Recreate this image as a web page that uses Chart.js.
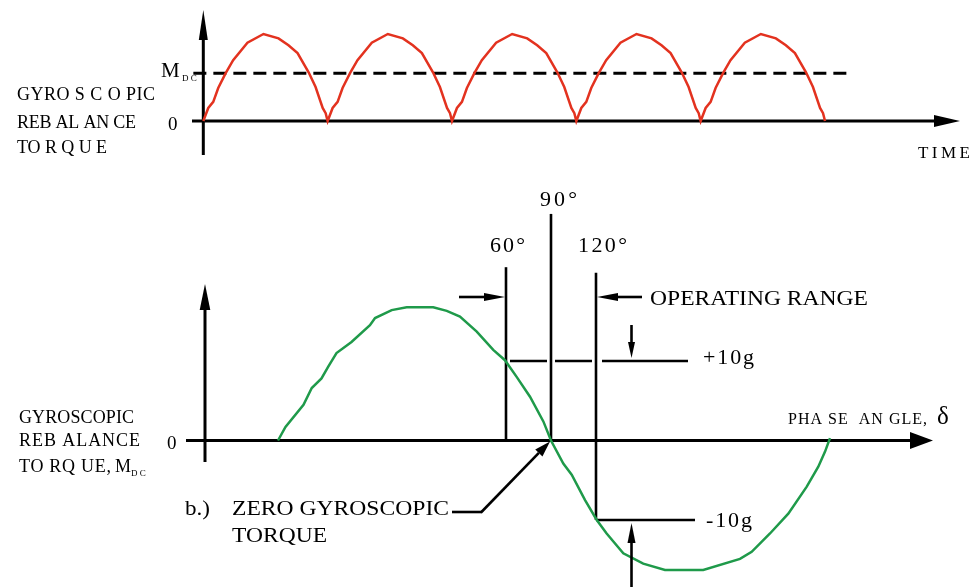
<!DOCTYPE html>
<html>
<head>
<meta charset="utf-8">
<script src="https://cdn.jsdelivr.net/npm/chart.js@4.4.1/dist/chart.umd.min.js"></script>
<style>
  html, body { margin: 0; padding: 0; background: #fff; }
  #plot { display: block; }
</style>
</head>
<body>
<canvas id="plot" width="971" height="587"></canvas>
<script>
// a.) rectified rebalance torque, one hump (phase of period, torque / peak)
const humpPhase = [0, 0.04, 0.08, 0.12, 0.18, 0.24, 0.355, 0.484, 0.605, 0.685, 0.758, 0.847, 0.903, 0.96, 0.984, 1.0];
const humpTorque = [0, 0.15, 0.22, 0.38, 0.55, 0.70, 0.90, 1.0, 0.95, 0.87, 0.78, 0.56, 0.39, 0.15, 0.09, 0];
const humpCount = 5;
const mdcLevel = 0.55;
const mdcSpan = [-0.08, 5.2];

// b.) rebalance torque vs phase angle (deg, g)
const phaseDeg = [-92, -87, -75, -69.5, -63, -58.5, -53, -43, -30.7, -27.3, -16.2, -6.2, 11.5, 20.5, 29.3, 40.5, 51.5, 59.3, 67.1, 76, 84.9, 90,
  98.2, 103.8, 112.7, 120.5, 127.1, 138.2, 151.5, 166, 191.5, 216, 223.8, 236, 248.2, 260.5, 268.2, 272.7, 276];
const rebalanceG = [0, 1.7, 4.5, 6.6, 7.8, 9.3, 11.0, 12.4, 14.5, 15.4, 16.4, 16.75, 16.75, 16.3, 15.6, 13.7, 11.4, 10.1, 8.0, 5.5, 2.4, 0,
  -2.9, -4.3, -7.5, -10, -11.7, -14.2, -15.5, -16.3, -16.3, -14.9, -14.0, -11.7, -9.2, -5.8, -3.3, -1.4, 0.3];
const markerDeg = [60, 90, 120];
const markerLabels = ["60°", "90°", "120°"];
const markerTopG = [21.8, 28.5, 21.1];
const markerBottomG = [0, 0, -10];
const limitG = [10, -10];

// build the point lists
const tornado = [];
for (let k = 0; k < humpCount; k++) {
  humpPhase.forEach((p, i) => {
    if (k > 0 && i === 0) return;
    tornado.push({ x: k + p, y: humpTorque[i] });
  });
}
const phasePoints = phaseDeg.map((d, i) => ({ x: d, y: rebalanceG[i] }));

const SERIF = "'Liberation Serif', 'DejaVu Serif', serif";

// draw text fitted to a width, by letter spacing or by stretching
function fitText(ctx, text, x, y, size, width, stretch) {
  ctx.font = size + "px " + SERIF;
  ctx.letterSpacing = "0px";
  if (!width) {
    ctx.fillText(text, x, y);
    return;
  }
  const w = ctx.measureText(text).width;
  if (stretch) {
    ctx.save();
    ctx.translate(x, y);
    ctx.scale(width / w, 1);
    ctx.fillText(text, 0, 0);
    ctx.restore();
    return;
  }
  const extra = (width - w) / Math.max(text.length - 1, 1);
  ctx.letterSpacing = extra.toFixed(2) + "px";
  ctx.fillText(text, x, y);
  ctx.letterSpacing = "0px";
}

function arrow(ctx, x1, y1, x2, y2, len, half, lw) {
  const a = Math.atan2(y2 - y1, x2 - x1);
  const bx = x2 - len * Math.cos(a), by = y2 - len * Math.sin(a);
  ctx.lineWidth = lw;
  ctx.beginPath();
  ctx.moveTo(x1, y1);
  ctx.lineTo(bx, by);
  ctx.stroke();
  ctx.beginPath();
  ctx.moveTo(x2, y2);
  ctx.lineTo(bx + half * Math.sin(a), by - half * Math.cos(a));
  ctx.lineTo(bx - half * Math.sin(a), by + half * Math.cos(a));
  ctx.closePath();
  ctx.fill();
}

function line(ctx, x1, y1, x2, y2, lw) {
  ctx.lineWidth = lw;
  ctx.beginPath();
  ctx.moveTo(x1, y1);
  ctx.lineTo(x2, y2);
  ctx.stroke();
}

const diagram = {
  id: "diagram",
  beforeDatasetsDraw(chart) {
    const ctx = chart.ctx;
    const s = chart.scales;
    ctx.save();
    ctx.strokeStyle = "#000";
    ctx.fillStyle = "#000";
    ctx.lineCap = "butt";
    // top axes
    const tx0 = s.xt.getPixelForValue(0), ty0 = s.yt.getPixelForValue(0);
    arrow(ctx, tx0, 155, tx0, 10, 30, 4.5, 3);
    arrow(ctx, 192, ty0, 960, ty0, 26, 6, 3);
    // bottom axes
    const by0 = s.yb.getPixelForValue(0);
    arrow(ctx, 205, 462, 205, 284, 26, 5.3, 3);
    arrow(ctx, 186, by0, 933, by0, 23, 8.5, 3);

    // phase markers
    markerDeg.forEach((d, i) => {
      const x = s.xb.getPixelForValue(d);
      line(ctx, x, s.yb.getPixelForValue(markerTopG[i]), x, s.yb.getPixelForValue(markerBottomG[i]), 2.6);
    });
    // +10g line with gaps at the markers
    const yp = s.yb.getPixelForValue(limitG[0]);
    const xs = [s.xb.getPixelForValue(60) + 4, s.xb.getPixelForValue(90) - 4, s.xb.getPixelForValue(90) + 4,
      s.xb.getPixelForValue(120) - 4, s.xb.getPixelForValue(120) + 6, 688];
    for (let i = 0; i < xs.length; i += 2) line(ctx, xs[i], yp, xs[i + 1], yp, 2.6);
    // -10g line
    const ym = s.yb.getPixelForValue(limitG[1]);
    line(ctx, s.xb.getPixelForValue(120), ym, 695, ym, 2.6);
    ctx.restore();
  },
  afterDatasetsDraw(chart) {
    const ctx = chart.ctx;
    const s = chart.scales;
    ctx.save();
    ctx.strokeStyle = "#000";
    ctx.fillStyle = "#000";
    ctx.textBaseline = "alphabetic";

    // operating range arrows
    const x60 = s.xb.getPixelForValue(60), x120 = s.xb.getPixelForValue(120);
    arrow(ctx, 459, 297, x60 - 1, 297, 21, 4, 2.6);
    arrow(ctx, 642, 297, x120 + 1, 297, 21, 4, 2.6);
    // limit arrows
    arrow(ctx, 631.5, 325, 631.5, s.yb.getPixelForValue(limitG[0]) - 3, 16, 3.5, 2.6);
    arrow(ctx, 631.5, 587, 631.5, s.yb.getPixelForValue(limitG[1]) + 3, 20, 4, 2.6);
    // zero torque leader
    const zx = s.xb.getPixelForValue(90) - 1, zy = s.yb.getPixelForValue(0) + 1;
    line(ctx, 452, 512, 482, 512, 2.6);
    arrow(ctx, 481, 512.5, zx, zy, 16, 5, 2.6);

    // top panel text
    fitText(ctx, "GYRO S C O PIC", 17, 100, 18, 138);
    fitText(ctx, "REB AL AN CE", 17, 128, 18, 119);
    fitText(ctx, "TO R Q U E", 17, 153, 18, 90);
    fitText(ctx, "M", 161, 77, 21);
    fitText(ctx, "D C", 182, 81, 9);
    fitText(ctx, "0", 168, 130, 19);
    fitText(ctx, "TIME", 918, 158, 17, 52);

    // bottom panel text
    fitText(ctx, "GYROSCOPIC", 19, 423, 18, 115);
    fitText(ctx, "REB ALANCE", 19, 446, 18, 121);
    fitText(ctx, "TO RQ UE,", 19, 472, 18, 92);
    fitText(ctx, "M", 115, 472, 18);
    fitText(ctx, "D C", 131, 476, 9);
    fitText(ctx, "0", 167, 449, 19);
    fitText(ctx, "PHA SE  AN GLE,", 788, 424, 16, 139);
    fitText(ctx, "δ", 937, 424, 25);

    const markerLeft = [490, 540, 578];
    const markerWidth = [35, 37, 49];
    const markerBase = [252, 206, 252];
    markerLabels.forEach((t, i) => fitText(ctx, t, markerLeft[i], markerBase[i], 22, markerWidth[i]));

    fitText(ctx, "OPERATING RANGE", 650, 305, 22, 218, true);
    fitText(ctx, "+10g", 703, 364, 22, 51);
    fitText(ctx, "-10g", 706, 527, 22, 46);
    fitText(ctx, "b.)", 185, 515, 21, 25, true);
    fitText(ctx, "ZERO GYROSCOPIC", 232, 515, 21, 217, true);
    fitText(ctx, "TORQUE", 232, 542, 21, 95, true);
    ctx.restore();
  }
};

const ctx = document.getElementById("plot").getContext("2d");
const chart = new Chart(ctx, {
  type: "line",
  data: {
    datasets: [
      {
        label: "Gyroscopic rebalance torque",
        data: tornado,
        xAxisID: "xt",
        yAxisID: "yt",
        borderColor: "#e3321f",
        borderWidth: 2.5,
        pointRadius: 0,
        tension: 0,
      },
      {
        label: "MDC",
        data: [{ x: mdcSpan[0], y: mdcLevel }, { x: mdcSpan[1], y: mdcLevel }],
        xAxisID: "xt",
        yAxisID: "yt",
        borderColor: "#000",
        borderWidth: 3,
        borderDash: [13, 7],
        pointRadius: 0,
      },
      {
        label: "Torque vs phase angle",
        data: phasePoints,
        xAxisID: "xb",
        yAxisID: "yb",
        borderColor: "#1f9a4a",
        borderWidth: 2.5,
        pointRadius: 0,
        tension: 0,
      },
    ],
  },
  options: {
    responsive: false,
    animation: false,
    devicePixelRatio: 1,
    events: [],
    layout: { padding: 0 },
    plugins: { legend: { display: false }, tooltip: { enabled: false } },
    scales: {
      xt: { type: "linear", display: false, min: -1.635, max: 6.174 },
      yt: { type: "linear", display: false, min: -5.356, max: 1.391 },
      xb: { type: "linear", display: false, min: -277.33, max: 370 },
      yb: { type: "linear", display: false, min: -18.43, max: 55.41 },
    },
  },
  plugins: [diagram],
});
</script>
</body>
</html>
